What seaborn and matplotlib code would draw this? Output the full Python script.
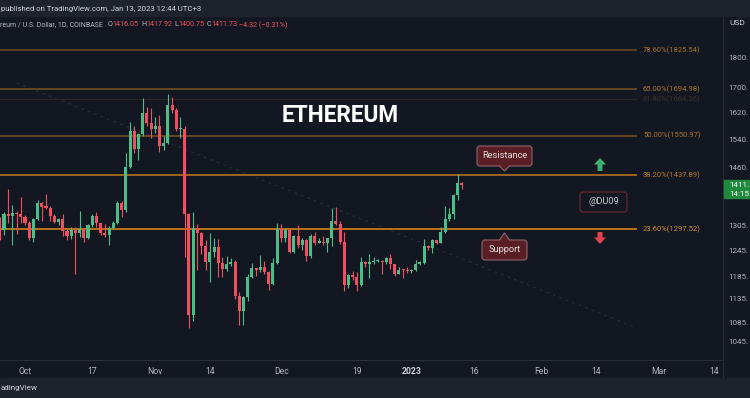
import matplotlib
matplotlib.use("Agg")
import numpy as np
import pandas as pd
import matplotlib.pyplot as plt
import seaborn as sns
from matplotlib.patches import Rectangle, Polygon, FancyBboxPatch
from matplotlib.ticker import NullLocator

# daily ETH/USD candles, Sep 25 2022 .. Jan 13 2023
dates = pd.date_range("2022-09-25", "2023-01-13", freq="D")

open_ = [1317, 1294, 1335, 1330, 1337, 1334,
         1328, 1311, 1276, 1323, 1362, 1352, 1351, 1330, 1315, 1321, 1291, 1279, 1294, 1288, 1298, 1276,
         1306, 1331, 1311, 1286, 1283, 1300, 1313, 1363, 1344, 1461, 1566, 1513, 1555, 1620, 1589,
         1572, 1579, 1519, 1530, 1645, 1629, 1571, 1571, 1335, 1100, 1300, 1288, 1256, 1218, 1241,
         1254, 1216, 1201, 1213, 1217, 1141, 1108, 1138, 1184, 1204, 1199, 1206, 1195, 1168, 1216,
         1296, 1276, 1294, 1241, 1280, 1258, 1270, 1232, 1281, 1264, 1265, 1263, 1274, 1318, 1309, 1266,
         1166, 1187, 1184, 1166, 1217, 1212, 1218, 1220, 1221, 1218, 1227, 1212, 1190, 1200, 1199,
         1196, 1200, 1214, 1215, 1256, 1251, 1269, 1263, 1290, 1321, 1336, 1385, 1416.05]
high = [1328, 1340, 1400, 1358, 1343, 1378,
        1333, 1318, 1325, 1372, 1367, 1387, 1355, 1335, 1324, 1335, 1296, 1301, 1302, 1343, 1300, 1310,
        1335, 1339, 1313, 1310, 1304, 1316, 1368, 1368, 1500, 1593, 1579, 1560, 1665, 1637, 1636,
        1608, 1613, 1549, 1680, 1670, 1636, 1607, 1580, 1338, 1341, 1310, 1290, 1271, 1288, 1275,
        1272, 1229, 1232, 1226, 1222, 1150, 1140, 1190, 1215, 1205, 1233, 1220, 1198, 1226, 1312,
        1310, 1300, 1298, 1282, 1306, 1274, 1272, 1285, 1290, 1275, 1280, 1276, 1350, 1352, 1318, 1290,
        1190, 1197, 1195, 1230, 1220, 1237, 1229, 1225, 1223, 1230, 1236, 1214, 1206, 1201, 1206,
        1201, 1222, 1220, 1273, 1259, 1273, 1270, 1301, 1355, 1350, 1387, 1440, 1417.92]
low = [1270, 1282, 1312, 1257, 1285, 1313,
       1306, 1270, 1265, 1320, 1318, 1347, 1317, 1312, 1308, 1280, 1269, 1273, 1191, 1278, 1266, 1273,
       1303, 1302, 1282, 1277, 1258, 1296, 1310, 1326, 1340, 1458, 1500, 1480, 1550, 1580, 1545,
       1560, 1503, 1509, 1525, 1620, 1565, 1545, 1230, 1073, 1087, 1200, 1237, 1199, 1171, 1230,
       1184, 1183, 1196, 1209, 1134, 1080, 1080, 1130, 1180, 1185, 1195, 1190, 1155, 1165, 1212,
       1266, 1265, 1238, 1238, 1250, 1247, 1221, 1226, 1257, 1262, 1258, 1241, 1256, 1306, 1260, 1153,
       1159, 1176, 1152, 1164, 1206, 1181, 1213, 1217, 1190, 1214, 1201, 1186, 1189, 1180, 1193,
       1192, 1196, 1210, 1212, 1245, 1240, 1261, 1262, 1288, 1317, 1322, 1370, 1400.75]
close = [1294, 1335, 1330, 1337, 1334, 1328,
         1311, 1276, 1323, 1362, 1352, 1351, 1330, 1315, 1321, 1291, 1279, 1294, 1288, 1298, 1276, 1306,
         1331, 1311, 1286, 1283, 1300, 1313, 1363, 1344, 1461, 1566, 1513, 1555, 1620, 1589, 1572,
         1579, 1519, 1530, 1645, 1629, 1571, 1572, 1335, 1100, 1300, 1288, 1256, 1218, 1241, 1254,
         1216, 1201, 1213, 1217, 1141, 1108, 1138, 1184, 1204, 1199, 1206, 1195, 1168, 1216, 1296,
         1276, 1294, 1241, 1280, 1258, 1270, 1232, 1281, 1264, 1265, 1263, 1274, 1318, 1309, 1266, 1166,
         1187, 1184, 1166, 1217, 1212, 1218, 1220, 1221, 1218, 1227, 1212, 1190, 1200, 1199, 1196,
         1200, 1214, 1215, 1256, 1251, 1269, 1263, 1290, 1321, 1336, 1385, 1416, 1411.73]

fib_pct = [78.6, 65.0, 61.8, 50.0, 38.2, 23.6]
fib_price = [1825.54, 1694.98, 1664.26, 1550.97, 1437.89, 1297.52]
fib_line_col = ["#5e4421", "#6a4b22", "#2a2824", "#6a4b22", "#a9691b", "#c57a14"]
fib_text_col = ["#a8722c", "#a8722c", "#3a3428", "#a8722c", "#b87a22", "#c98a2a"]

# faint dotted trendline (two anchors)
trend_date = ["2022-09-29", "2023-02-23"]
trend_price = [1715, 1076]

price_ticks = [1045, 1085, 1135, 1185, 1245, 1305, 1460, 1540, 1620, 1700, 1800]
date_ticks = ["2022-10-01", "2022-10-17", "2022-11-01", "2022-11-14", "2022-12-01", "2022-12-19",
              "2023-01-01", "2023-01-16", "2023-02-01", "2023-02-14", "2023-03-01", "2023-03-14"]
date_labels = ["Oct", "17", "Nov", "14", "Dec", "19", "2023", "16", "Feb", "14", "Mar", "14"]

BG = "#131722"
PANEL = "#1e222d"
GRID = "#2a2e39"
TXT = "#b2b5be"
UP = "#4dbd87"
DOWN = "#ef4f5e"

origin = pd.Timestamp("2022-10-01")
df = pd.DataFrame({"date": dates, "open": open_, "high": high, "low": low, "close": close})
df["day"] = (df["date"] - origin).dt.days
df["up"] = df["close"] >= df["open"]

sns.set_theme(style="dark", rc={"axes.facecolor": BG, "figure.facecolor": BG})
plt.rcParams["font.family"] = ["Roboto", "DejaVu Sans"]

W, H = 750, 398
fig = plt.figure(figsize=(W / 100, H / 100), dpi=100)

# main chart area in pixels: x 0..723, y 16..360
ax = fig.add_axes([0, (H - 360) / H, 723 / W, (360 - 16) / H])
ax.set_facecolor(BG)
ax.set_yscale("log")
ax.set_xlim(-5.95, 166.15)
ax.set_ylim(1009.6, 1949.5)

# trendline
trend = pd.DataFrame({"day": [(pd.Timestamp(d) - origin).days for d in trend_date], "price": trend_price})
sns.lineplot(data=trend, x="day", y="price", ax=ax, color="#262b37", lw=1,
             linestyle=(0, (2, 3)), zorder=1)

# fib levels
for pct, p, lc, tc in zip(fib_pct, fib_price, fib_line_col, fib_text_col):
    lw = 0.8 if pct == 61.8 else 1.3
    ax.hlines(p, -6, 145.7, colors=lc, lw=lw, zorder=2)
    ax.text(147.1, p, f"{pct:.2f}%({p:.2f})", color=tc, fontsize=5.5, va="center", ha="left")

# candles
cols = np.where(df["up"], UP, DOWN)
ax.vlines(df["day"], df["low"], df["high"], colors=cols, lw=0.8, zorder=3)
lo = np.minimum(df["open"], df["close"])
hi = np.maximum(np.maximum(df["open"], df["close"]), lo * 1.0025)
ax.bar(df["day"], hi - lo, bottom=lo, width=0.72, color=cols, linewidth=0, zorder=4)

# axes styling
for s in ["top", "left"]:
    ax.spines[s].set_visible(False)
ax.spines["bottom"].set_color(GRID)
ax.spines["right"].set_color(GRID)
ax.spines["bottom"].set_linewidth(0.8)
ax.spines["right"].set_linewidth(0.8)
ax.yaxis.tick_right()
ax.set_yticks(price_ticks)
ax.set_yticklabels([f"{t}." for t in price_ticks])
ax.yaxis.set_minor_locator(NullLocator())
ax.set_xticks([(pd.Timestamp(d) - origin).days for d in date_ticks])
ax.set_xticklabels(date_labels)
ax.tick_params(axis="y", length=0, pad=4, labelsize=5.8, colors=TXT)
ax.tick_params(axis="x", length=0, pad=5, labelsize=6.2, colors=TXT)
for lab in ax.get_xticklabels():
    if lab.get_text() == "2023":
        lab.set_fontweight("bold")
        lab.set_color("#d1d4dc")
ax.set_xlabel("")
ax.set_ylabel("")
ax.grid(False)

# overlay in pixel coordinates for the decorations
ov = fig.add_axes([0, 0, 1, 1])
ov.set_xlim(0, W)
ov.set_ylim(H, 0)
ov.axis("off")
ov.patch.set_alpha(0)

ov.add_patch(Rectangle((0, 0), W, 16, color=PANEL, zorder=0))
ov.add_patch(Rectangle((0, 378), W, 20, color=PANEL, zorder=0))
ov.plot([723, 723], [360, 378], color=GRID, lw=0.8)
ov.text(1, 9.5, "published on TradingView.com, Jan 13, 2023 12:44 UTC+3", color="#d1d4dc",
        fontsize=5.55, va="center", ha="left")
ov.text(1, 388, "adingView", color="#d1d4dc", fontsize=5.8, va="center", ha="left")

# legend line with OHLC values
ov.text(0, 25, "reum / U.S. Dollar, 1D, COINBASE", color=TXT, fontsize=5.0, va="center", ha="left")
for x, s, c in [(108, "O", TXT), (112.5, "1416.05", DOWN), (141.5, "H", TXT), (146.5, "1417.92", DOWN),
                (174, "L", TXT), (178, "1400.75", DOWN), (206.5, "C", TXT), (211, "1411.73", DOWN),
                (239, "\u22124.32 (\u22120.31%)", DOWN)]:
    ov.text(x, 25, s, color=c, fontsize=5.2, va="center", ha="left")

ov.text(729, 23, "USD", color="#d1d4dc", fontsize=6, va="center", ha="left")

# last price box
ov.add_patch(Rectangle((723.5, 180), 27, 18, color="#1f8a3d", zorder=3))
ov.text(729.5, 185, "1411.", color="white", fontsize=5.8, va="center", ha="left", zorder=4)
ov.text(729.5, 193.5, "14:15", color="white", fontsize=5.8, va="center", ha="left", zorder=4)

ov.text(340, 116, "ETHEREUM", color="white", fontsize=16.3, fontweight="bold",
        va="center", ha="center")


def callout(x0, y0, x1, y1, tip_y, text):
    fill, edge = "#5a1e25", "#8f6468"
    ov.add_patch(FancyBboxPatch((x0, y0), x1 - x0, y1 - y0, boxstyle="round,pad=0,rounding_size=3",
                                fc=fill, ec=edge, lw=0.8, zorder=5))
    cx = (x0 + x1) / 2
    base = y1 if tip_y > y1 else y0
    inner = base - 1 if tip_y > y1 else base + 1
    ov.add_patch(Polygon([(cx - 5, inner), (cx + 5, inner), (cx, tip_y)], closed=True,
                         fc=fill, ec="none", zorder=6))
    ov.plot([cx - 5, cx, cx + 5], [base, tip_y, base], color=edge, lw=0.8, zorder=6)
    ov.text(cx, (y0 + y1) / 2, text, color="#e6dcdc", fontsize=6.7, va="center", ha="center", zorder=7)


callout(477, 146, 532, 166, 171, "Resistance")
callout(482, 240, 527, 260, 233, "Support")

ov.add_patch(FancyBboxPatch((580, 192), 47, 20, boxstyle="round,pad=0,rounding_size=3",
                            fc=BG, ec="#6e2a32", lw=0.8, zorder=5))
ov.text(603.5, 202, "@DU09", color="#c9c9cc", fontsize=6.7, va="center", ha="center", zorder=6)

# direction arrows
ov.add_patch(Polygon([(600, 158), (606, 164.5), (602.5, 164.5), (602.5, 171), (597.5, 171),
                      (597.5, 164.5), (594, 164.5)], closed=True, fc="#3fae72", ec="none"))
ov.add_patch(Polygon([(600, 244), (606, 237.5), (602.5, 237.5), (602.5, 232), (597.5, 232),
                      (597.5, 237.5), (594, 237.5)], closed=True, fc="#e0424f", ec="none"))

fig.savefig("out.png", dpi=100, facecolor=BG)
